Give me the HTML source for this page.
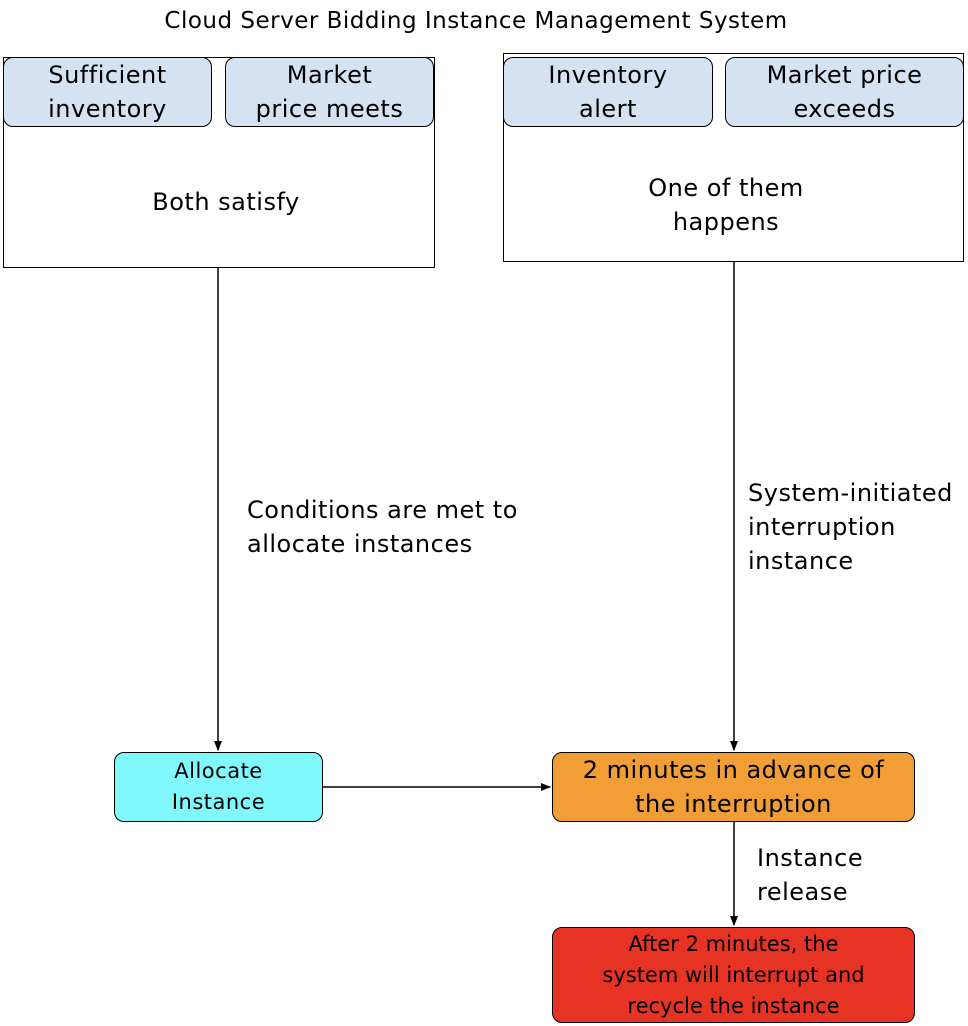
<!DOCTYPE html>
<html><head><meta charset="utf-8"><style>
body{margin:0;width:968px;height:1026px;background:#fff;position:relative;overflow:hidden;font-family:"DejaVu Sans",sans-serif;color:#000;letter-spacing:0.5px}
.a{position:absolute;box-sizing:border-box}
.box{border:1.5px solid #000}
.in{border:1.5px solid #000;border-radius:10px;background:#d5e2f2;display:flex;align-items:center;justify-content:center;text-align:center;font-size:24px;line-height:34px;white-space:nowrap}
.t{position:absolute;font-size:24px;line-height:34px;white-space:nowrap}
.c{display:flex;align-items:center;justify-content:center;text-align:center;white-space:nowrap}
</style></head><body>
<div class="t" style="left:0;width:952px;top:4px;text-align:center;font-size:23px">Cloud Server Bidding Instance Management System</div>

<div class="a box" style="left:3px;top:57px;width:432px;height:211px"></div>
<div class="a in" style="left:3px;top:57px;width:209px;height:70px">Sufficient<br>inventory</div>
<div class="a in" style="left:225px;top:57px;width:209px;height:70px">Market<br>price meets</div>
<div class="t" style="left:3px;width:446px;top:185px;text-align:center">Both satisfy</div>

<div class="a box" style="left:503px;top:53px;width:461px;height:209px"></div>
<div class="a in" style="left:503px;top:57px;width:210px;height:70px">Inventory<br>alert</div>
<div class="a in" style="left:725px;top:57px;width:239px;height:70px">Market price<br>exceeds</div>
<div class="t" style="left:503px;width:446px;top:171px;text-align:center">One of them<br>happens</div>

<svg class="a" style="left:0;top:0" width="968" height="1026">
<defs><marker id="m" markerWidth="10" markerHeight="10" refX="9" refY="5" orient="auto" markerUnits="userSpaceOnUse"><path d="M0,1 L10,5 L0,9 z" fill="#000"/></marker></defs>
<g stroke="#000" stroke-width="1.5" fill="none">
<line x1="218" y1="268" x2="218" y2="750" marker-end="url(#m)"/>
<line x1="734" y1="262" x2="734" y2="750" marker-end="url(#m)"/>
<line x1="323" y1="787" x2="550" y2="787" marker-end="url(#m)"/>
<line x1="734" y1="822" x2="734" y2="925" marker-end="url(#m)"/>
</g></svg>

<div class="t" style="left:247px;top:493px">Conditions are met to<br>allocate instances</div>
<div class="t" style="left:748px;top:476px">System-initiated<br>interruption<br>instance</div>
<div class="t" style="left:757px;top:841px">Instance<br>release</div>

<div class="a box c" style="left:114px;top:752px;width:209px;height:70px;border-radius:10px;background:#80f8fc;font-size:21px;line-height:31px">Allocate<br>Instance</div>
<div class="a box c" style="left:552px;top:752px;width:363px;height:70px;border-radius:10px;background:#f19e36;font-size:24px;line-height:34px">2 minutes in advance of<br>the interruption</div>
<div class="a box c" style="left:552px;top:927px;width:363px;height:96px;border-radius:10px;background:#e63323;font-size:21px;line-height:31px;letter-spacing:0">After 2 minutes, the<br>system will interrupt and<br>recycle the instance</div>
</body></html>
